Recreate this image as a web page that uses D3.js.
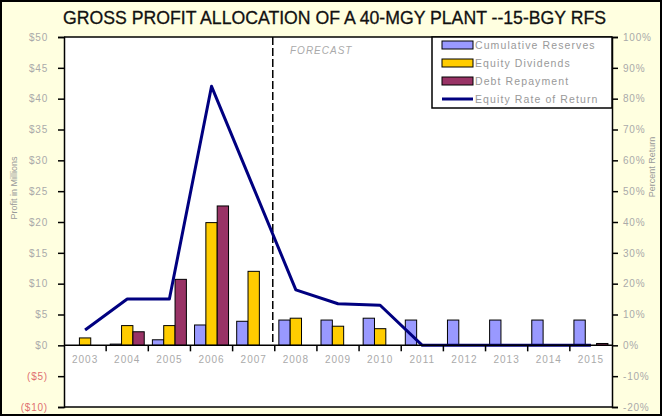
<!DOCTYPE html>
<html>
<head>
<meta charset="utf-8">
<script src="https://cdn.jsdelivr.net/npm/d3@7"></script>
<style>
  body { margin: 0; background: #fff; }
  svg { display: block; }
  text { font-family: "Liberation Sans", Arial, sans-serif; }
</style>
</head>
<body>
<svg id="chart" width="662" height="416"></svg>
<script>
// data
var years = ["2003","2004","2005","2006","2007","2008","2009","2010","2011","2012","2013","2014","2015"];
var reserves  = [0, 0.2, 0.9, 3.3, 3.9, 4.1, 4.1, 4.4, 4.1, 4.1, 4.1, 4.1, 4.1];
var dividends = [1.2, 3.2, 3.2, 19.9, 12.0, 4.4, 3.1, 2.7, 0, 0, 0, 0, 0];
var debt      = [0, 2.2, 10.7, 22.6, 0, 0, 0, 0, 0, 0, 0, 0, 0.3];
var returnPct = [5, 15, 15, 84, 51, 18, 13.5, 13, 0, 0, 0, 0, 0];

var leftTicks  = [50, 45, 40, 35, 30, 25, 20, 15, 10, 5, 0, -5, -10];
var rightTicks = [100, 90, 80, 70, 60, 50, 40, 30, 20, 10, 0, -10, -20];

var seriesNames  = ["Cumulative Reserves", "Equity Dividends", "Debt Repayment", "Equity Rate of Return"];
var seriesColors = ["#9999ff", "#ffcc00", "#993366", "#000080"];

var svg = d3.select("#chart");
var W = 662, H = 416;
var plot = {left: 64, right: 612, top: 37, bottom: 407};

// background + outer frame
svg.append("rect").attr("x", 1).attr("y", 1).attr("width", W - 2).attr("height", H - 2)
  .attr("fill", "#ffffe0").attr("stroke", "#000").attr("stroke-width", 2);
svg.append("rect").attr("x", plot.left).attr("y", plot.top)
  .attr("width", plot.right - plot.left).attr("height", plot.bottom - plot.top)
  .attr("fill", "#fff");

var x = d3.scaleBand().domain(years).range([plot.left, plot.right]).padding(0);
var xs = d3.scaleBand().domain([0, 1, 2]).range([0, x.bandwidth()]).paddingInner(0).paddingOuter(0.36);
var y = d3.scaleLinear().domain([-10, 50]).range([plot.bottom, plot.top]);
var y2 = d3.scaleLinear().domain([-20, 100]).range([plot.bottom, plot.top]);

// title
svg.append("text").attr("x", 63).attr("y", 24)
  .attr("font-size", 18).attr("fill", "#111").attr("stroke", "#111").attr("stroke-width", 0.3)
  .attr("textLength", 543).attr("lengthAdjust", "spacingAndGlyphs")
  .text("GROSS PROFIT ALLOCATION OF A 40-MGY PLANT --15-BGY RFS");

// bars
var series = [reserves, dividends, debt];
series.forEach(function(vals, si) {
  var rows = vals.map(function(v, i) { return {year: years[i], v: v}; })
    .filter(function(d) { return d.v > 0; });
  svg.append("g").selectAll("rect")
    .data(rows)
    .enter().append("rect")
    .attr("x", function(d) { return x(d.year) + xs(si); })
    .attr("y", function(d) { return y(d.v); })
    .attr("width", xs.bandwidth())
    .attr("height", function(d) { return y(0) - y(d.v); })
    .attr("fill", seriesColors[si])
    .attr("stroke", "#000").attr("stroke-width", 1);
});

// forecast divider
svg.append("line").attr("x1", x("2008") - 2).attr("x2", x("2008") - 2)
  .attr("y1", plot.top).attr("y2", y(0))
  .attr("stroke", "#000").attr("stroke-width", 1.5).attr("stroke-dasharray", "8,3");
svg.append("text").attr("x", 290).attr("y", 54).attr("font-size", 10)
  .attr("font-style", "italic").attr("fill", "#aaa").attr("letter-spacing", 1).text("FORECAST");

// return line
var line = d3.line()
  .x(function(d, i) { return x(years[i]) + x.bandwidth() / 2; })
  .y(function(d) { return y2(d); });
svg.append("path").datum(returnPct).attr("d", line)
  .attr("fill", "none").attr("stroke", seriesColors[3]).attr("stroke-width", 3)
  .attr("stroke-linejoin", "round");

// zero line + x ticks
svg.append("line").attr("x1", plot.left).attr("x2", plot.right)
  .attr("y1", y(0)).attr("y2", y(0)).attr("stroke", "#000").attr("stroke-width", 1.5);
var xAxis = d3.axisBottom(x).tickSize(0).tickPadding(11);
var gx = svg.append("g").attr("transform", "translate(0," + y(0) + ")").call(xAxis);
gx.select(".domain").remove();
gx.selectAll("text").attr("font-size", 10).attr("fill", "#aaa").attr("letter-spacing", 1);
years.forEach(function(yr, i) {
  if (i == 0) return;
  svg.append("line").attr("x1", x(yr)).attr("x2", x(yr))
    .attr("y1", y(0)).attr("y2", y(0) + 6).attr("stroke", "#000").attr("stroke-width", 1.5);
});

// left axis
var yAxis = d3.axisLeft(y).tickValues(leftTicks).tickSize(6).tickPadding(10)
  .tickFormat(function(d) { return d < 0 ? "($" + (-d) + ")" : "$" + d; });
var gy = svg.append("g").attr("transform", "translate(" + plot.left + ",0)").call(yAxis);
gy.select(".domain").attr("stroke-width", 1.5);
gy.selectAll(".tick line").attr("stroke-width", 1.5);
gy.selectAll("text").attr("font-size", 10).attr("letter-spacing", 0.8)
  .attr("fill", function(d) { return d < 0 ? "#e07070" : "#aaa"; });

// right axis
var yAxis2 = d3.axisRight(y2).tickValues(rightTicks).tickSize(6).tickPadding(5)
  .tickFormat(function(d) { return d + "%"; });
var gy2 = svg.append("g").attr("transform", "translate(" + plot.right + ",0)").call(yAxis2);
gy2.select(".domain").attr("stroke-width", 1.5);
gy2.selectAll(".tick line").attr("stroke-width", 1.5);
gy2.selectAll("text").attr("font-size", 10).attr("letter-spacing", 0.8).attr("fill", "#aaa");

// top / bottom frame
svg.append("line").attr("x1", plot.left).attr("x2", plot.right).attr("y1", plot.top).attr("y2", plot.top)
  .attr("stroke", "#000").attr("stroke-width", 1.5);
svg.append("line").attr("x1", plot.left).attr("x2", plot.right).attr("y1", plot.bottom).attr("y2", plot.bottom)
  .attr("stroke", "#000").attr("stroke-width", 1.5);

// axis titles
svg.append("text").attr("transform", "translate(17,188) rotate(-90)").attr("text-anchor", "middle")
  .attr("font-size", 9).attr("fill", "#999").text("Profit in Millions");
svg.append("text").attr("transform", "translate(655,167) rotate(-90)").attr("text-anchor", "middle")
  .attr("font-size", 9).attr("fill", "#999").text("Percent Return");

// legend
var lg = svg.append("g");
lg.append("rect").attr("x", 432).attr("y", plot.top).attr("width", plot.right - 432).attr("height", 71)
  .attr("fill", "#fff").attr("stroke", "#000").attr("stroke-width", 1.5);
var rowY = [45, 63, 81, 99];
seriesNames.forEach(function(name, i) {
  if (i < 3) {
    lg.append("rect").attr("x", 442).attr("y", rowY[i] - 4).attr("width", 31).attr("height", 8)
      .attr("fill", seriesColors[i]).attr("stroke", "#000").attr("stroke-width", 1);
  } else {
    lg.append("line").attr("x1", 442).attr("x2", 473).attr("y1", rowY[i]).attr("y2", rowY[i])
      .attr("stroke", seriesColors[i]).attr("stroke-width", 3);
  }
  lg.append("text").attr("x", 475).attr("y", rowY[i] + 4).attr("font-size", 10.5)
    .attr("letter-spacing", 1.1).attr("fill", "#999").text(name);
});
</script>
</body>
</html>
